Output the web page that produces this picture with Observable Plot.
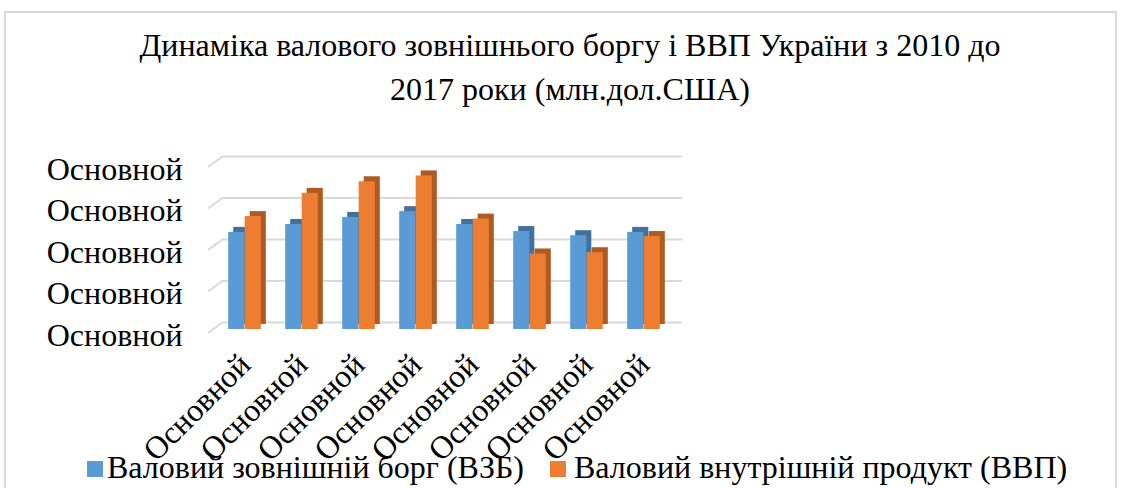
<!DOCTYPE html>
<html>
<head>
<meta charset="utf-8">
<script src="https://cdn.jsdelivr.net/npm/d3@7"></script>
<script src="https://cdn.jsdelivr.net/npm/@observablehq/plot@0.6"></script>
<style>
  html, body { margin: 0; padding: 0; background: #fff; }
  #wrap { position: relative; width: 1124px; height: 488px; overflow: hidden; color: #000; }
  #wrap div { font-family: 'Liberation Serif', 'Times New Roman', Times, serif; }
  #frame { position: absolute; left: 4px; top: 11px; width: 1113px; height: 520px;
           border: 2px solid #d9d9d9; box-sizing: border-box; }
  #title { position: absolute; left: 0; top: 23px; width: 1140px; text-align: center;
           font-size: 32px; line-height: 44px; }
  #chart { position: absolute; left: 0; top: 0; }
  .leg { position: absolute; top: 449px; font-size: 32px; line-height: 36px; white-space: nowrap; }
  .sw { position: absolute; width: 16px; height: 16px; top: 461px; }
</style>
</head>
<body>
<div id="wrap">
  <div id="frame"></div>
  <div id="title"></div>
  <div id="chart"></div>
  <div class="sw" id="sw1"></div><div class="leg" id="leg1"></div>
  <div class="sw" id="sw2"></div><div class="leg" id="leg2"></div>
</div>
<script>
// ---- data (млн. дол. США) ----
const years = ["2010", "2011", "2012", "2013", "2014", "2015", "2016", "2017"];
const debt  = [117000, 126500, 135000, 142000, 126500, 118000, 113000, 117000];
const gdp   = [136000, 164000, 178000, 185000, 133000, 91000, 92500, 112000];
const xTickLabels = ["Основной", "Основной", "Основной", "Основной", "Основной", "Основной", "Основной", "Основной"];
const yTicks = [0, 50000, 100000, 150000, 200000];
const yTickLabels = ["Основной", "Основной", "Основной", "Основной", "Основной"];
const seriesNames = ["Валовий зовнішній борг (ВЗБ)", "Валовий внутрішній продукт (ВВП)"];
const titleLines = ["Динаміка валового зовнішнього боргу і ВВП України з 2010 до", "2017 роки (млн.дол.США)"];

const serif = "'Liberation Serif', 'Times New Roman', Times, serif";
const blue = "#5b9bd5", blueDark = "#41719c";
const orange = "#ed7d31", orangeDark = "#ae5a21";

const titleEl = document.getElementById("title");
titleEl.style.fontFamily = serif;
titleEl.innerHTML = titleLines.join("<br>");
const leg1 = document.getElementById("leg1"), leg2 = document.getElementById("leg2");
leg1.textContent = seriesNames[0];
leg2.textContent = seriesNames[1];
leg1.style.fontFamily = serif; leg2.style.fontFamily = serif;
leg1.style.left = "107px"; leg2.style.left = "574px";
const sw1 = document.getElementById("sw1"), sw2 = document.getElementById("sw2");
sw1.style.background = blue; sw1.style.left = "87px";
sw2.style.background = orange; sw2.style.left = "550px";

const debtRows = years.map((y, i) => ({year: y, value: debt[i]}));
const gdpRows = years.map((y, i) => ({year: y, value: gdp[i]}));

const W = 1124, H = 488, ML = 214, MR = 451, MT = 163, MB = 159;
const band = (W - ML - MR) / years.length;
const barW = 16.5;
const half = band / 2;
const depthX = 5, depthY = -5;

// diagonal "floor" ticks of the 3D walls, positioned through the y scale
function wallTicks(index, scales, values, dimensions) {
  const g = d3.create("svg:g");
  for (const t of yTicks) {
    const y = scales.y(t);
    g.append("line")
      .attr("x1", dimensions.marginLeft - 6).attr("y1", y + 4)
      .attr("x2", dimensions.marginLeft + 9).attr("y2", y - 7)
      .attr("stroke", "#d9d9d9").attr("stroke-width", 2);
  }
  return g.node();
}

const plot = Plot.plot({
  width: W, height: H,
  marginLeft: ML, marginRight: MR, marginTop: MT, marginBottom: MB,
  style: {fontFamily: serif, fontSize: "32px", color: "#000", background: "transparent", overflow: "visible"},
  x: {type: "band", domain: years, padding: 0},
  y: {domain: [0, 200000]},
  marks: [
    Plot.ruleY(yTicks, {stroke: "#d9d9d9", strokeWidth: 2, dx: 9, dy: -7}),
    wallTicks,
    Plot.barY(debtRows, {x: "year", y: "value", fill: blueDark, insetLeft: half - barW, insetRight: half, dx: depthX, dy: depthY}),
    Plot.barY(debtRows, {x: "year", y: "value", fill: blue, insetLeft: half - barW, insetRight: half}),
    Plot.barY(gdpRows, {x: "year", y: "value", fill: orangeDark, insetLeft: half, insetRight: half - barW, dx: depthX, dy: depthY}),
    Plot.barY(gdpRows, {x: "year", y: "value", fill: orange, insetLeft: half, insetRight: half - barW}),
    Plot.axisY({ticks: yTicks, tickFormat: (d) => yTickLabels[yTicks.indexOf(d)], tickSize: 0, tickPadding: 32, fontSize: 32, dy: 6, label: null, fontFamily: serif}),
    Plot.axisX({tickFormat: d => xTickLabels[years.indexOf(d)], tickRotate: -45, tickSize: 0, tickPadding: 30, fontSize: 32, label: null, fontFamily: serif})
  ]
});
document.getElementById("chart").appendChild(plot);
</script>
</body>
</html>
